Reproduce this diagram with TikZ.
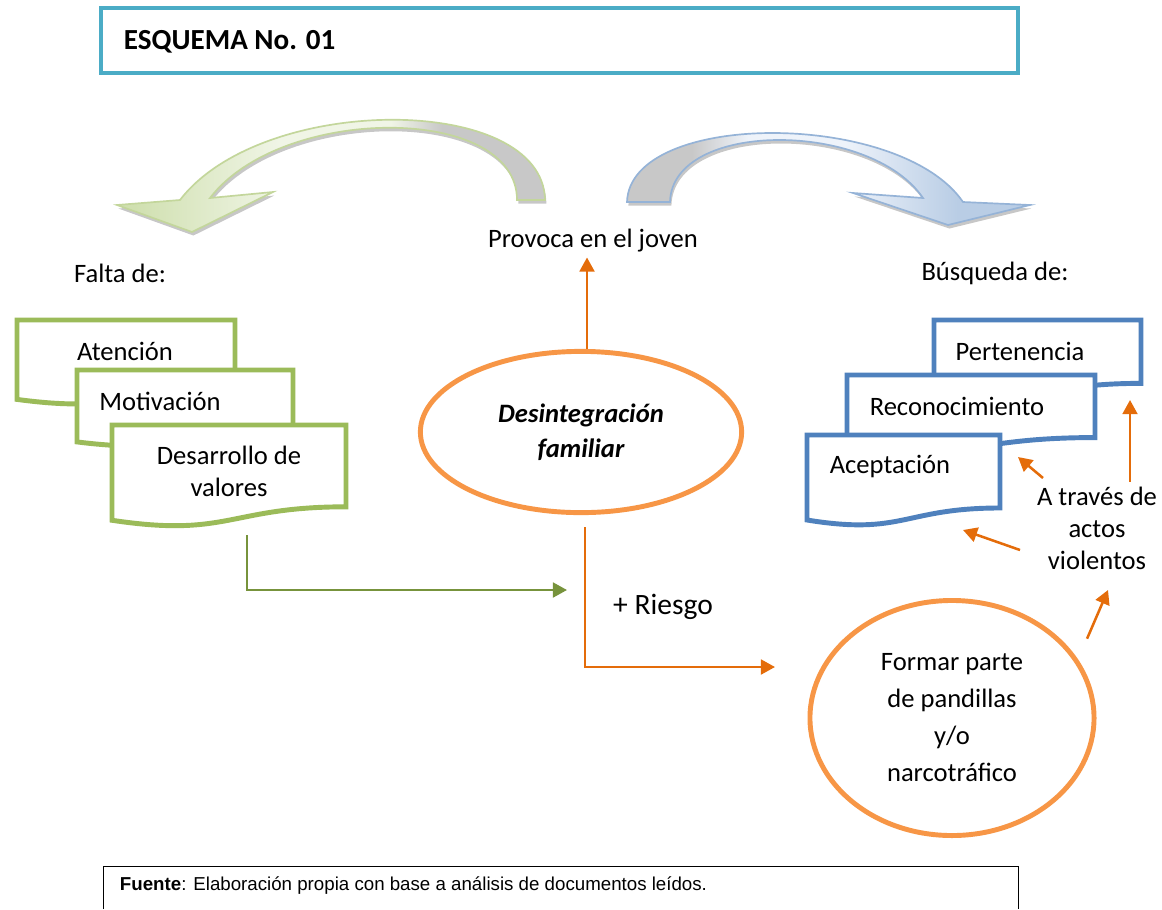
\documentclass[tikz,border=0pt]{standalone}
\usepackage{fontspec}
\setmainfont{Carlito}
\newfontfamily\arialfont{Liberation Sans}
\usetikzlibrary{shapes.geometric,arrows.meta}

\definecolor{titleteal}{HTML}{4BACC6}
\definecolor{docgreen}{HTML}{9BBB59}
\definecolor{docblue}{HTML}{4F81BD}
\definecolor{ringorange}{HTML}{F79646}
\definecolor{arroworange}{HTML}{E46C0A}
\definecolor{arrowgreen}{HTML}{77933C}
\definecolor{arcgray}{HTML}{C8C8C8}
\definecolor{arcgreen}{HTML}{D0E0B0}
\definecolor{arcgreenlight}{HTML}{F0F5E6}
\definecolor{arcgreenline}{HTML}{C3D69B}
\definecolor{arcblue}{HTML}{B9CDE5}
\definecolor{arcbluelight}{HTML}{EEF3FA}
\definecolor{arcblueline}{HTML}{95B3D7}

\pgfdeclarehorizontalshading{greenarcshade}{100bp}{color(0bp)=(arcgreen); color(27bp)=(arcgreen); color(44bp)=(arcgreenlight); color(57bp)=(arcgreenlight); color(63bp)=(arcgray); color(100bp)=(arcgray)}
\pgfdeclarehorizontalshading{bluearcshade}{100bp}{color(0bp)=(arcgray); color(33bp)=(arcgray); color(40bp)=(arcbluelight); color(52bp)=(arcbluelight); color(66bp)=(arcblue); color(100bp)=(arcblue)}

\tikzset{
	txt/.style={
		font=\fontsize{18.9}{22.8}\selectfont,
		align=center
	},
	title box/.style={
		draw=titleteal,
		line width=2.8pt
	},
	every doc/.style={
		fill=white,
		line width=3.5pt
	},
	doc green/.style={every doc, draw=docgreen},
	doc blue/.style={every doc, draw=docblue},
	ring/.style={
		ellipse,
		draw=ringorange,
		line width=3.5pt,
		fill=white,
		align=center
	},
	arc shadow/.style={
		preaction={fill=black!22, transform canvas={shift={(1pt,-2.5pt)}}}
	},
	green arc/.style={arc shadow, draw=arcgreenline, line width=1.2pt, shading=greenarcshade},
	blue arc/.style={arc shadow, draw=arcblueline, line width=1.2pt, shading=bluearcshade},
	orange arrow/.style={draw=arroworange, line width=1.8pt},
	green arrow/.style={draw=arrowgreen, line width=1.8pt},
}

\begin{document}
\begin{tikzpicture}[x=0.025cm, y=-0.025cm, >={Triangle[length=10pt,width=10.5pt]}]

\useasboundingbox (0,0) rectangle (1162,909);

% title
\draw[title box] (101,8) rectangle (1018,73);
\node[anchor=west, font=\fontsize{20.7}{24}\selectfont\bfseries] (esquema) at (119,42) {ESQUEMA No. 01};

% curved arrows
\path[green arc] (545,200) .. controls (543,93) and (262,93) .. (180,200)
	-- (117,205) -- (192,232) -- (273,192) -- (210,198)
	.. controls (282,104) and (517,104) .. (517,200) -- cycle;
\path[blue arc] (627,202) .. controls (630,110) and (900,110) .. (963,202)
	-- (1030,205) -- (948,225) -- (853,193) -- (923,198)
	.. controls (870,120) and (672,120) .. (670,202) -- cycle;

\node[txt] (provoca) at (593,241) {Provoca en el joven};
\node[txt] (falta) at (120,273) {Falta de:};
\node[txt] (busqueda) at (995,273) {Búsqueda de:};

% documents
\foreach \x/\y/\w/\h in {17/320/218/85, 77/370/216/77, 112/425/234/102}
	\draw[doc green] (\x,\y) -- ++(\w,0) -- ++(0,0.802*\h)
		.. controls +(-0.5*\w,0) and (\x+0.5*\w,\y+1.107*\h) .. (\x,\y+0.934*\h) -- cycle;

\foreach \x/\y/\w/\h in {934/320/207/79, 847/375/248/78, 807/435/193/91}
	\draw[doc blue] (\x,\y) -- ++(\w,0) -- ++(0,0.802*\h)
		.. controls +(-0.5*\w,0) and (\x+0.5*\w,\y+1.107*\h) .. (\x,\y+0.934*\h) -- cycle;

\node[txt] (atencion) at (125,351) {Atención};
\node[txt] (motivacion) at (160,401) {Motivación};
\node[txt] (valores) at (229,471) {Desarrollo de\\valores};
\node[txt] (pertenencia) at (1020,351) {Pertenencia};
\node[txt] (reconocimiento) at (957,406) {Reconocimiento};
\node[txt] (aceptacion) at (890,466) {Aceptación};

% ellipses
\node[ring, minimum width=8.03cm, minimum height=4.03cm,
	font=\fontsize{18.9}{25}\selectfont\bfseries\itshape] (desint) at (581,432) {Desintegración\\familiar};
\node[ring, minimum width=7.1cm, minimum height=5.875cm,
	font=\fontsize{18.9}{26.3}\selectfont] (formar) at (952,718) {Formar parte\\de pandillas\\y/o\\narcotráfico};

\node[txt] (atraves) at (1097,528) {A través de\\actos\\violentos};
\node[txt, font=\fontsize{21}{25}\selectfont] (riesgo) at (663,607) {+ Riesgo};

% connectors
\coordinate (valoresout) at (247,535);
\coordinate (riesgoin) at (567,590);
\coordinate (riesgostart) at ([xshift=0.1cm, yshift=-0.3cm]desint.south);
\coordinate (pandillain) at (775,667);
\coordinate (violin) at (1108,590);
\coordinate (pertin) at (1130,400);
\coordinate (recin) at (1018,457);
\coordinate (atravesout) at (1043,478);
\coordinate (acepin) at (963,530);
\coordinate (violout) at (1020,550);

\draw[->, orange arrow] ([xshift=0.15cm]desint.north) -- ([xshift=0.15cm]desint.north |- provoca.south);
\draw[->, green arrow] (valoresout) |- (riesgoin);
\draw[->, orange arrow] (riesgostart) |- (pandillain);
\draw[->, orange arrow] ([shift={(0.41cm,0.27cm)}]formar.30) -- (violin);
\draw[->, orange arrow] (atraves.north -| pertin) -- (pertin);
\draw[->, orange arrow] (atravesout) -- (recin);
\draw[->, orange arrow] (violout) -- (acepin);

% source
\draw[line width=0.6pt] (103,909) |- (1018,866) -- (1018,909);
\node[anchor=west, font=\arialfont\fontsize{13.3}{16}\selectfont] (fuente) at (115,886) {\textbf{Fuente}: Elaboración propia con base a análisis de documentos leídos.};

\end{tikzpicture}
\end{document}
